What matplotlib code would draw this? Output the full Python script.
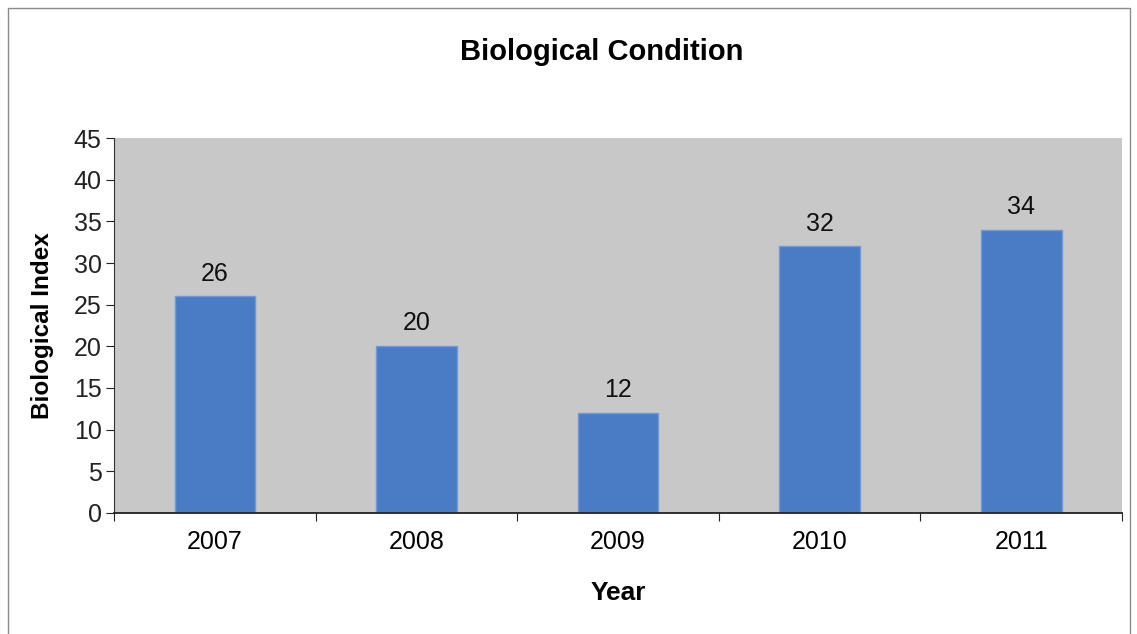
import matplotlib.pyplot as plt
from matplotlib.patches import Rectangle

plt.rcParams['font.family'] = ['Liberation Sans', 'DejaVu Sans']

years = ['2007', '2008', '2009', '2010', '2011']
index_values = [26, 20, 12, 32, 34]

fig = plt.figure(figsize=(11.37, 6.34), dpi=100)
ax = fig.add_axes([0.1003, 0.1909, 0.8865, 0.5914])
ax.set_facecolor('#c8c8c8')

x = list(range(len(years)))
ax.bar(x, index_values, width=0.4, color='#4a7cc6', edgecolor='#6f9ad6', linewidth=1, zorder=2)

for xi, v in zip(x, index_values):
    ax.text(xi, v + 1.3, str(v), ha='center', va='bottom', fontsize=18, color='#111111')

ax.set_xlim(-0.5, len(years) - 0.5)
ax.set_ylim(0, 45)
ax.set_yticks(range(0, 46, 5))
ax.tick_params(axis='y', labelsize=18, direction='out', length=6, colors='#222222', pad=3)

# tick marks between categories, labels at the centres
ax.set_xticks([i - 0.5 for i in range(len(years) + 1)])
ax.set_xticklabels([])
ax.set_xticks(x, minor=True)
ax.set_xticklabels(years, minor=True)
ax.tick_params(axis='x', which='major', direction='out', length=6, colors='#222222')
ax.tick_params(axis='x', which='minor', length=0, labelsize=18, pad=12)

for side in ['top', 'right']:
    ax.spines[side].set_visible(False)
ax.spines['left'].set_color('#333333')
ax.spines['bottom'].set_color('#222222')
ax.spines['bottom'].set_linewidth(1.3)

ax.set_xlabel('Year', fontsize=19, fontweight='bold', labelpad=20)
ax.set_ylabel('Biological Index', fontsize=17.5, fontweight='bold', labelpad=14)
fig.text(0.529, 0.918, 'Biological Condition', ha='center', va='center',
         fontsize=21, fontweight='bold')

# outer chart frame
fig.patches.append(Rectangle((0.007, -0.01), 0.987, 0.998, transform=fig.transFigure,
                             fill=False, edgecolor='#8a8a8a', linewidth=1))

fig.savefig('out.png', dpi=100)
